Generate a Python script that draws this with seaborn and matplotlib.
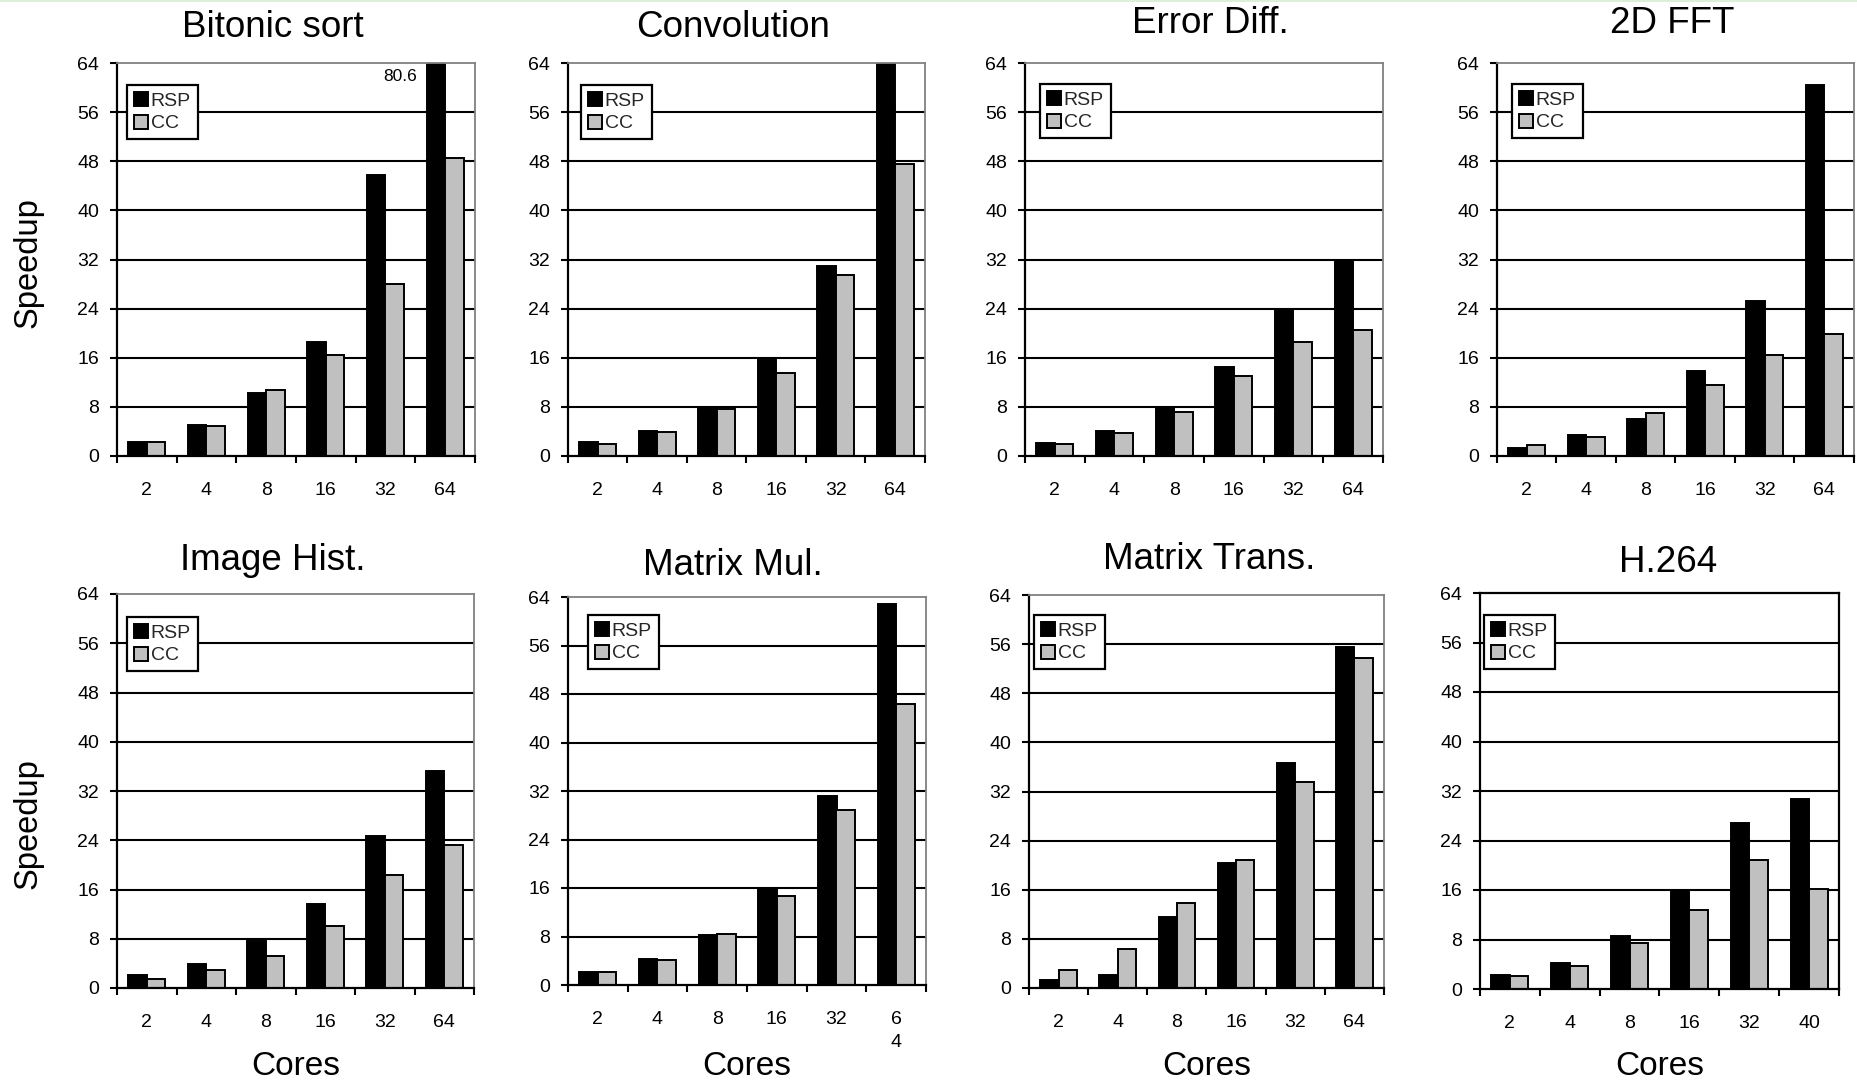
import numpy as np
import pandas as pd
import matplotlib
matplotlib.use("Agg")
import matplotlib.pyplot as plt
from matplotlib.patches import Rectangle
import seaborn as sns

sns.set_theme(style="white")
plt.rcParams['font.family'] = ['Liberation Sans', 'DejaVu Sans']

# ---------------- data ----------------
titles = ["Bitonic sort", "Convolution", "Error Diff.", "2D FFT",
          "Image Hist.", "Matrix Mul.", "Matrix Trans.", "H.264"]
series_names = ["RSP", "CC"]

cores_std = ["2", "4", "8", "16", "32", "64"]
cores_mm = ["2", "4", "8", "16", "32", "6\n4"]
cores_h264 = ["2", "4", "8", "16", "32", "40"]

bitonic_rsp = [2.3, 5.0, 10.3, 18.5, 45.7, 80.6]
bitonic_cc = [2.2, 4.9, 10.8, 16.5, 28.0, 48.6]
conv_rsp = [2.2, 4.1, 8.0, 15.6, 31.0, 64.0]
conv_cc = [2.0, 3.9, 7.6, 13.5, 29.5, 47.5]
errdiff_rsp = [2.1, 4.0, 8.0, 14.5, 24.0, 32.0]
errdiff_cc = [1.9, 3.8, 7.2, 13.0, 18.6, 20.5]
fft_rsp = [1.25, 3.4, 6.1, 13.9, 25.3, 60.4]
fft_cc = [1.8, 3.1, 7.0, 11.5, 16.5, 19.9]
hist_rsp = [2.15, 3.95, 7.6, 13.7, 24.7, 35.3]
hist_cc = [1.5, 2.9, 5.25, 10.0, 18.4, 23.3]
mmul_rsp = [2.15, 4.25, 8.3, 15.8, 31.2, 62.9]
mmul_cc = [2.15, 4.2, 8.35, 14.7, 28.9, 46.3]
mtrans_rsp = [1.26, 2.18, 11.5, 20.3, 36.7, 55.5]
mtrans_cc = [2.87, 6.3, 13.9, 20.9, 33.5, 53.75]
h264_rsp = [2.3, 4.25, 8.5, 16.05, 26.9, 30.7]
h264_cc = [2.15, 3.66, 7.5, 12.8, 20.8, 16.2]

y_ticks = [0, 8, 16, 24, 32, 40, 48, 56, 64]
bitonic_note = "80.6"

panels = [
    (titles[0], cores_std, bitonic_rsp, bitonic_cc),
    (titles[1], cores_std, conv_rsp, conv_cc),
    (titles[2], cores_std, errdiff_rsp, errdiff_cc),
    (titles[3], cores_std, fft_rsp, fft_cc),
    (titles[4], cores_std, hist_rsp, hist_cc),
    (titles[5], cores_mm, mmul_rsp, mmul_cc),
    (titles[6], cores_std, mtrans_rsp, mtrans_cc),
    (titles[7], cores_h264, h264_rsp, h264_cc),
]

# ---------------- layout (pixels) ----------------
W, H = 1858, 1083
axes_px = [  # left, right, top, bottom
    (117, 475, 63, 456), (568, 925, 63, 456), (1025, 1383, 63, 456), (1497, 1854, 63, 456),
    (117, 474, 594, 988), (568, 926, 597, 985), (1029, 1384, 595, 988), (1480, 1839, 593, 989),
]
title_px = [(273, 37), (733, 37), (1210, 33), (1672, 33),
            (273, 570), (733, 575), (1209, 569), (1668, 572)]
legend_px = [(127, 85), (581, 85), (1040, 84), (1512, 84),
             (127, 617), (588, 615), (1034, 615), (1484, 615)]

palette = {"RSP": "black", "CC": "#C0C0C0"}

fig = plt.figure(figsize=(W / 100, H / 100), dpi=100)
fig.patch.set_facecolor("white")
fig.add_artist(Rectangle((0, 1 - 2 / H), 1, 2 / H, transform=fig.transFigure,
                         facecolor="#dcefd8", edgecolor="none"))


def fx(px):
    return px / W


def fy(py):
    return 1 - py / H


for i, (title, cores, rsp, cc) in enumerate(panels):
    l, r, t, b = axes_px[i]
    ax = fig.add_axes([fx(l), fy(b), (r - l) / W, (b - t) / H])
    df = pd.DataFrame({
        "Cores": list(range(len(cores))) * 2,
        "Speedup": list(rsp) + list(cc),
        "Series": [series_names[0]] * len(rsp) + [series_names[1]] * len(cc),
    })
    sns.barplot(data=df, x="Cores", y="Speedup", hue="Series", hue_order=series_names,
                palette=palette, edgecolor="black", linewidth=1.4, width=0.62,
                saturation=1, ax=ax, legend=True, zorder=3)
    ax.set_ylim(0, 64)
    ax.set_xlim(-0.5, len(cores) - 0.5)
    ax.set_yticks(y_ticks)
    ax.set_yticklabels([str(v) for v in y_ticks], fontsize=14)
    ax.set_xticks(range(len(cores)))
    ax.set_xticklabels(cores, fontsize=14, linespacing=1.4)
    ax.set_xticks(np.arange(-0.5, len(cores), 1), minor=True)
    ax.tick_params(axis="x", which="major", length=0, pad=19, colors="black")
    ax.tick_params(axis="x", which="minor", length=5, width=1.5, direction="out",
                   color="black", bottom=True)
    ax.tick_params(axis="y", which="major", length=5, width=1.5, direction="out",
                   pad=8, colors="black", left=True)
    ax.set_xlabel("")
    ax.set_ylabel("")
    ax.set_facecolor("white")
    ax.yaxis.grid(True, color="black", linewidth=1.5)
    ax.set_axisbelow(True)
    glines = ax.get_ygridlines()
    glines[0].set_visible(False)
    glines[-1].set_visible(False)

    frame_col = "black" if i == 7 else "#808080"
    for side in ("left", "bottom"):
        ax.spines[side].set_color("black")
        ax.spines[side].set_linewidth(1.6)
    for side in ("top", "right"):
        ax.spines[side].set_color(frame_col)
        ax.spines[side].set_linewidth(1.3 if i != 7 else 1.6)
    for sp in ax.spines.values():
        sp.set_zorder(4)

    # legend
    lx, ly = legend_px[i]
    handles, labels = ax.get_legend_handles_labels()
    leg = ax.legend(handles, labels, loc="upper left",
                    bbox_to_anchor=((lx - l) / (r - l), (b - ly) / (b - t)),
                    borderaxespad=0, fontsize=14, frameon=True, fancybox=False,
                    framealpha=1, edgecolor="black", handlelength=0.75, handleheight=0.75,
                    handletextpad=0.12, labelspacing=0.25, borderpad=0.35)
    leg.get_frame().set_linewidth(1.6)
    leg.set_zorder(5)

    # title
    tx, ty = title_px[i]
    fig.text(fx(tx), fy(ty), title, ha="center", va="baseline", fontsize=26.5, color="black")

    if i == 0:
        ax.annotate(bitonic_note, xy=(len(cores) - 1 - 0.31, 64), xycoords="data",
                    xytext=(-7, -10), textcoords="offset points",
                    ha="right", va="center", fontsize=12.5, color="black")

    if i in (0, 4):
        fig.text(fx(28), fy(263 if i == 0 else 824), "Speedup", rotation=90,
                 ha="center", va="center", fontsize=23.5, color="black")
    if i >= 4:
        fig.text(fx((l + r) / 2), fy(1075), "Cores", ha="center", va="baseline",
                 fontsize=24, color="black")

fig.savefig("out.png", dpi=100, facecolor="white")
